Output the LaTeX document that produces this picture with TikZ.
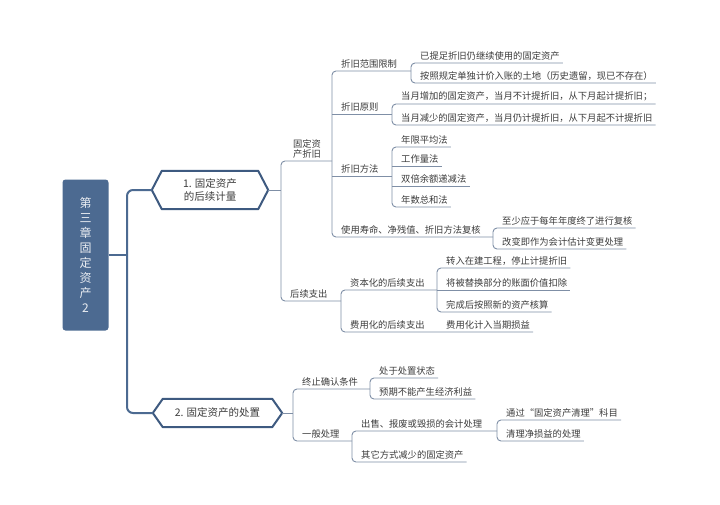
\documentclass[tikz,border=0pt]{standalone}
\usepackage{fontspec}
\newfontfamily\cjk{Noto Sans CJK SC}
\definecolor{rootc}{HTML}{4C6A91}
\definecolor{hexc}{HTML}{3E5A80}
\definecolor{linec}{HTML}{7F8FA6}
\definecolor{txt}{HTML}{3C3C3C}
\begin{document}
\begin{tikzpicture}[x=1pt,y=-1pt,
  lbl/.style={anchor=south west, inner xsep=0pt, inner ysep=2.5pt, font=\cjk\fontsize{9.3}{10.5}\selectfont, text=txt},
  sub/.style={draw=linec, line width=0.9pt, rounded corners=4pt},
  main/.style={draw=rootc, line width=2pt, rounded corners=6pt},
  hexlbl/.style={font=\cjk\fontsize{10.5}{12.5}\selectfont, text=txt, align=center, inner sep=0pt},
  hexline/.style={draw=hexc, line width=2pt, line join=round},
]
\useasboundingbox[fill=white] (0,0) rectangle (720,504);

% root
\node[fill=rootc, rounded corners=3pt, minimum width=46pt, minimum height=151pt, inner sep=0pt,
      text=white!88!rootc, font=\cjk\fontsize{12}{15}\selectfont, align=center] (root) at (85.5,255)
      {第\\三\\章\\固\\定\\资\\产\\2};

% hexagons
\node[hexlbl, minimum width=96pt, minimum height=38pt] (h1) at (210,190) {1. 固定资产\\的后续计量};
\draw[hexline] ([xshift=-10pt]h1.west) -- (h1.north west) -- (h1.north east) -- ([xshift=10pt]h1.east)
  -- (h1.south east) -- (h1.south west) -- cycle;
\node[hexlbl, minimum width=109pt, minimum height=28pt] (h2) at (217.5,413) {2. 固定资产的处置};
\draw[hexline] ([xshift=-10pt]h2.west) -- (h2.north west) -- (h2.north east) -- ([xshift=10pt]h2.east)
  -- (h2.south east) -- (h2.south west) -- cycle;

% main connectors
\coordinate (mA) at (127,0);
\draw[main] ([xshift=-10pt]h1.west) -- (mA |- h1.west) -- (mA |- h2.west) -- ([xshift=-10pt]h2.west);
\draw[main, rounded corners=0pt] (root.east) -- (mA |- root.east);

% bracket coordinates
\coordinate (bA) at (281,0);
\coordinate (bgd) at (332,0);
\coordinate (bhx) at (341,0);
\coordinate (bfw) at (411,0);
\coordinate (byz) at (392,0);
\coordinate (bff) at (392,0);
\coordinate (bfh) at (493,0);
\coordinate (bzb) at (437,0);
\coordinate (bB) at (293,0);
\coordinate (bzz) at (370,0);
\coordinate (byb) at (352,0);
\coordinate (bcs) at (497,0);

% ---- part 1 nodes
\node[lbl, anchor=south, align=center, font=\cjk\fontsize{9.3}{10}\selectfont] (gd) at (307,161) {固定资\\产折旧};
\node[lbl] (hx) at (290,301) {后续支出};

\node[lbl] (fw) at (341,71) {折旧范围限制};
\node[lbl] (yz) at (341,114) {折旧原则};
\node[lbl] (ff) at (341,176) {折旧方法};
\node[lbl] (fh) at (341,237) {使用寿命、净残值、折旧方法复核};

\node[lbl] (f1) at (420,63) {已提足折旧仍继续使用的固定资产};
\node[lbl] (f2) at (420,83) {按照规定单独计价入账的土地（历史遗留，现已不存在）};
\node[lbl] (y1) at (401,104) {当月增加的固定资产，当月不计提折旧，从下月起计提折旧；};
\node[lbl] (y2) at (401,125) {当月减少的固定资产，当月仍计提折旧，从下月起不计提折旧};
\node[lbl] (m1) at (401,147) {年限平均法};
\node[lbl] (m2) at (401,166) {工作量法};
\node[lbl] (m3) at (401,186) {双倍余额递减法};
\node[lbl] (m4) at (401,207) {年数总和法};
\node[lbl] (s1) at (502,228) {至少应于每年年度终了进行复核};
\node[lbl] (s2) at (502,249) {改变即作为会计估计变更处理};

\node[lbl] (zb) at (350,290) {资本化的后续支出};
\node[lbl] (fy) at (350,332) {费用化的后续支出};
\node[lbl] (z1) at (446,268) {转入在建工程，停止计提折旧};
\node[lbl] (z2) at (446,290) {将被替换部分的账面价值扣除};
\node[lbl] (z3) at (446,312) {完成后按照新的资产核算};
\node[lbl] (fy1) at (446,332) {费用化计入当期损益};

% ---- part 2 nodes
\node[lbl] (zz) at (302,389) {终止确认条件};
\node[lbl] (yb) at (302,441) {一般处理};
\node[lbl] (q1) at (379,378) {处于处置状态};
\node[lbl] (q2) at (379,399) {预期不能产生经济利益};
\node[lbl] (cs) at (361,431) {出售、报废或毁损的会计处理};
\node[lbl] (qt) at (361,462) {其它方式减少的固定资产};
\node[lbl] (t1) at (506,420) {通过“固定资产清理”科目};
\node[lbl] (t2) at (506,441) {清理净损益的处理};

% ---- part 1 connectors
\draw[sub, rounded corners=0pt] ([xshift=10pt]h1.east) -- (bA |- h1.east);
\draw[sub] (bgd |- gd.south) -- (bA |- gd.south) -- (bA |- hx.south) -- (bhx |- hx.south);

\draw[sub] (bfw |- fw.south) -- (bgd |- fw.south) -- (bgd |- fh.south) -- (bfh |- fh.south);
\draw[sub] (bgd |- yz.south) -- (byz |- yz.south);
\draw[sub] (bgd |- ff.south) -- (bff |- ff.south);

\draw[sub] ([xshift=3pt]f1.south east) -- (bfw |- f1.south) -- (bfw |- f2.south) -- ([xshift=3pt]f2.south east);
\draw[sub] ([xshift=3pt]y1.south east) -- (byz |- y1.south) -- (byz |- y2.south) -- ([xshift=3pt]y2.south east);
\draw[sub] ([xshift=3pt]m1.south east) -- (bff |- m1.south) -- (bff |- m4.south) -- ([xshift=3pt]m4.south east);
\draw[sub] (bff |- m2.south) -- ([xshift=3pt]m2.south east);
\draw[sub] (bff |- m3.south) -- ([xshift=3pt]m3.south east);
\draw[sub] ([xshift=3pt]s1.south east) -- (bfh |- s1.south) -- (bfh |- s2.south) -- ([xshift=3pt]s2.south east);

\draw[sub] (bzb |- zb.south) -- (bhx |- zb.south) -- (bhx |- fy.south) -- (bzb |- fy.south) -- ([xshift=3pt]fy1.south east);
\draw[sub] ([xshift=3pt]z1.south east) -- (bzb |- z1.south) -- (bzb |- z3.south) -- ([xshift=3pt]z3.south east);
\draw[sub] (bzb |- z2.south) -- ([xshift=3pt]z2.south east);

% ---- part 2 connectors
\draw[sub, rounded corners=0pt] ([xshift=10pt]h2.east) -- (bB |- h2.east);
\draw[sub] (bzz |- zz.south) -- (bB |- zz.south) -- (bB |- yb.south) -- (byb |- yb.south);
\draw[sub] ([xshift=3pt]q1.south east) -- (bzz |- q1.south) -- (bzz |- q2.south) -- ([xshift=3pt]q2.south east);
\draw[sub] (bcs |- cs.south) -- (byb |- cs.south) -- (byb |- qt.south) -- ([xshift=3pt]qt.south east);
\draw[sub] ([xshift=3pt]t1.south east) -- (bcs |- t1.south) -- (bcs |- t2.south) -- ([xshift=3pt]t2.south east);
\end{tikzpicture}
\end{document}
